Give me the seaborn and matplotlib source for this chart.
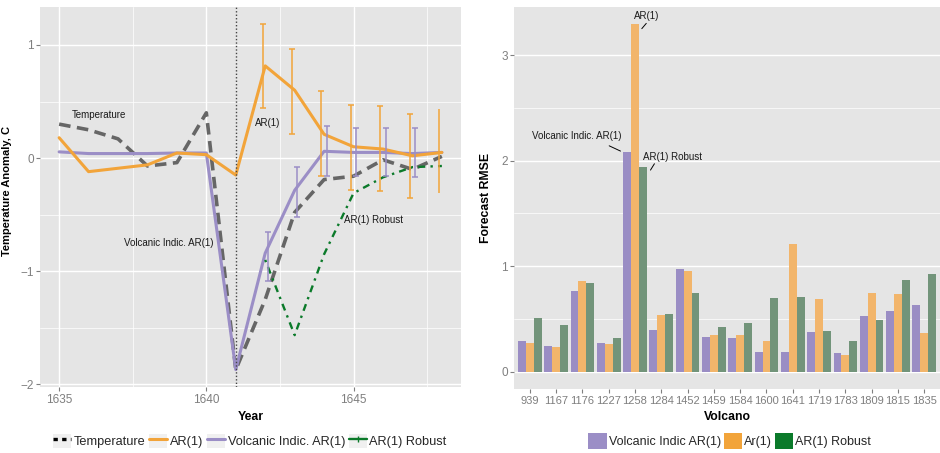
import matplotlib
matplotlib.use("Agg")
import numpy as np
import pandas as pd
import matplotlib.pyplot as plt
import seaborn as sns
from matplotlib.lines import Line2D
from matplotlib.patches import Rectangle, Patch
from matplotlib.legend_handler import HandlerTuple
from matplotlib.ticker import MultipleLocator

# ---------------- data ----------------
years = [1635, 1636, 1637, 1638, 1639, 1640, 1641, 1642, 1643, 1644, 1645, 1646, 1647, 1648]
temperature = [0.30, 0.25, 0.17, -0.07, -0.04, 0.40, -1.87, -1.25, -0.48, -0.19, -0.16, -0.015, -0.10, 0.015]
ar1 = [0.18, -0.12, -0.09, -0.06, 0.045, 0.03, -0.15, 0.815, 0.60, 0.21, 0.10, 0.08, 0.02, 0.05]
volc_ar1 = [0.055, 0.04, 0.04, 0.04, 0.045, 0.045, -1.87, -0.84, -0.285, 0.06, 0.05, 0.05, 0.04, 0.05]

robust_years = [1642, 1643, 1644, 1645, 1646, 1647, 1648]
robust = [-0.90, -1.565, -0.85, -0.31, -0.17, -0.08, -0.07]

ar1_err_years = [1642, 1643, 1644, 1645, 1646, 1647, 1648]
ar1_lo = [0.44, 0.215, -0.156, -0.28, -0.29, -0.356, -0.31]
ar1_hi = [1.185, 0.965, 0.594, 0.47, 0.456, 0.394, 0.43]

volc_err_years = [1642, 1643, 1644, 1645, 1646, 1647]
volc_lo = [-1.085, -0.52, -0.156, -0.16, -0.16, -0.17]
volc_hi = [-0.65, -0.08, 0.28, 0.27, 0.27, 0.27]

eruption_year = 1641

volcanoes = ["939", "1167", "1176", "1227", "1258", "1284", "1452", "1459",
             "1584", "1600", "1641", "1719", "1783", "1809", "1815", "1835"]
rmse_volc = [0.29, 0.246, 0.763, 0.27, 2.08, 0.394, 0.97, 0.328,
             0.319, 0.186, 0.186, 0.375, 0.177, 0.527, 0.574, 0.631]
rmse_ar1 = [0.27, 0.233, 0.858, 0.26, 3.29, 0.536, 0.953, 0.347,
            0.344, 0.287, 1.208, 0.688, 0.155, 0.745, 0.735, 0.366]
rmse_robust = [0.51, 0.44, 0.836, 0.32, 1.94, 0.543, 0.745, 0.423,
               0.46, 0.694, 0.707, 0.385, 0.29, 0.489, 0.864, 0.927]
models = ["Volcanic Indic AR(1)", "Ar(1)", "AR(1) Robust"]

# ---------------- style ----------------
sns.set_theme(style="darkgrid")
plt.rcParams["font.family"] = ["Liberation Sans", "DejaVu Sans"]

PANEL = "#E5E5E5"
TICK = "#7F7F7F"
ORANGE = "#F2A43A"
PURPLE = "#9B8EC6"
GREEN = "#0B7A2A"
GRAY = "#666666"

fig = plt.figure(figsize=(9.4, 4.53), dpi=100)
axL = fig.add_axes([40/940, (453-387.3)/453, 421/940, 380.6/453])
axR = fig.add_axes([514/940, (453-389.3)/453, 426/940, 382.6/453])

for ax in (axL, axR):
    ax.set_facecolor(PANEL)
    for s in ax.spines.values():
        s.set_visible(False)
    ax.grid(which="major", color="white", linewidth=1.0)
    ax.grid(which="minor", color="white", linewidth=0.5)
    ax.tick_params(axis="both", which="major", colors=TICK, labelcolor=TICK,
                   length=3, width=0.8, labelsize=8.5, pad=1.5,
                   bottom=True, left=True)
    ax.tick_params(which="minor", length=0)
    ax.set_axisbelow(True)

# ---------------- left panel ----------------
dfL = pd.DataFrame({"Year": years, "temp": temperature, "ar1": ar1, "volc": volc_ar1})
dfR = pd.DataFrame({"Year": robust_years, "robust": robust})

sns.lineplot(data=dfL, x="Year", y="temp", ax=axL, color=GRAY, linewidth=2.6,
             dashes=False, zorder=2).lines[-1].set_dashes((3.2, 1.8))
sns.lineplot(data=dfL, x="Year", y="volc", ax=axL, color=PURPLE, linewidth=2.2, zorder=3)
sns.lineplot(data=dfL, x="Year", y="ar1", ax=axL, color=ORANGE, linewidth=2.2, zorder=3)
sns.lineplot(data=dfR, x="Year", y="robust", ax=axL, color=GREEN, linewidth=1.7, zorder=4)
axL.lines[-1].set_dashes((1.0, 2.2, 3.0, 2.2))

axL.axvline(eruption_year, color="#444444", linestyle=(0, (1, 1.5)), linewidth=1.0, zorder=5)

dodge = 0.09
ar1_mid = [(a + b) / 2 for a, b in zip(ar1_lo, ar1_hi)]
ar1_half = [(b - a) / 2 for a, b in zip(ar1_lo, ar1_hi)]
axL.errorbar([y - dodge for y in ar1_err_years[:-1]], ar1_mid[:-1], yerr=ar1_half[:-1],
             fmt="none", ecolor=ORANGE, elinewidth=1.1, capsize=2.4, capthick=1.1, zorder=6)
axL.errorbar([ar1_err_years[-1] - dodge], ar1_mid[-1:], yerr=ar1_half[-1:],
             fmt="none", ecolor=ORANGE, elinewidth=1.1, capsize=0, zorder=6)
v_mid = [(a + b) / 2 for a, b in zip(volc_lo, volc_hi)]
v_half = [(b - a) / 2 for a, b in zip(volc_lo, volc_hi)]
axL.errorbar([y + dodge for y in volc_err_years], v_mid, yerr=v_half,
             fmt="none", ecolor=PURPLE, elinewidth=1.1, capsize=2.4, capthick=1.1, zorder=6)

axL.set_xlim(1634.35, 1648.65)
axL.set_ylim(-2.026, 1.338)
axL.set_xticks([1635, 1640, 1645])
axL.set_yticks([-2, -1, 0, 1])
axL.set_yticklabels(["\u22122", "\u22121", "0", "1"])
axL.xaxis.set_minor_locator(MultipleLocator(2.5))
axL.yaxis.set_minor_locator(MultipleLocator(0.5))
axL.set_xlabel("Year", fontsize=8.8, fontweight="bold", color="black")
axL.set_ylabel("Temperature Anomaly, C", fontsize=8, fontweight="bold", color="black")
axL.xaxis.set_label_coords(0.5, -0.062)
axL.yaxis.set_label_coords(-0.0665, 0.516)

ann = dict(fontsize=7, color="#1a1a1a", ha="left", va="center", zorder=7)
axL.text(1635.43, 0.38, "Temperature", **ann)
axL.text(1641.64, 0.31, "AR(1)", **ann)
axL.text(1637.19, -0.75, "Volcanic Indic. AR(1)", **ann)
axL.text(1644.67, -0.55, "AR(1) Robust", **ann)

# ---------------- right panel ----------------
dfB = pd.DataFrame({
    "Volcano": volcanoes * 3,
    "RMSE": rmse_volc + rmse_ar1 + rmse_robust,
    "Model": [models[0]] * len(volcanoes) + [models[1]] * len(volcanoes) + [models[2]] * len(volcanoes),
})
bar_pal = {models[0]: "#9A8DC4", models[1]: "#F2B56B", models[2]: "#72947A"}
sns.barplot(data=dfB, x="Volcano", y="RMSE", hue="Model", order=volcanoes,
            hue_order=models, palette=bar_pal, saturation=1, width=0.9,
            ax=axR, legend=False, linewidth=0, errorbar=None)
axR.set_xlim(-0.6, len(volcanoes) - 0.4)
axR.set_ylim(-0.167, 3.458)
axR.set_yticks([0, 1, 2, 3])
axR.yaxis.set_minor_locator(MultipleLocator(0.5))
axR.tick_params(axis="x", labelsize=8)
axR.set_xlabel("Volcano", fontsize=8.8, fontweight="bold", color="black")
axR.set_ylabel("Forecast RMSE", fontsize=8.8, fontweight="bold", color="black")
axR.xaxis.set_label_coords(0.5, -0.0567)
axR.yaxis.set_label_coords(-0.0516, 0.5)

annR = dict(fontsize=7, color="#1a1a1a", ha="center", va="center")
axR.text(4.43, 3.37, "AR(1)", **annR)
axR.plot([4.26, 4.43], [3.25, 3.30], color="black", lw=0.7)
axR.text(1.79, 2.23, "Volcanic Indic. AR(1)", **annR)
axR.plot([3.02, 3.45], [2.14, 2.09], color="black", lw=0.7)
axR.text(5.42, 2.03, "AR(1) Robust", **annR)
axR.plot([4.59, 4.74], [1.91, 1.97], color="black", lw=0.7)

# ---------------- legends ----------------
bg = lambda: Rectangle((0, 0), 1, 1, facecolor="#F0F0F0", edgecolor="none")
hL = [
    (bg(), Line2D([], [], color="black", lw=2.4, linestyle=(0, (1.3, 1.3)))),
    (bg(), Line2D([], [], color=ORANGE, lw=2.2)),
    (bg(), Line2D([], [], color=PURPLE, lw=2.2)),
    (bg(), Line2D([], [], color=GREEN, lw=1.7, marker="|", markersize=5, markevery=[1])),
]
labL = ["Temperature", "AR(1)", "Volcanic Indic. AR(1)", "AR(1) Robust"]
fig.legend(hL, labL, loc="center", bbox_to_anchor=(250/940, 12/453), ncol=4,
           frameon=False, fontsize=9.2, handlelength=1.4, handleheight=1.4,
           handletextpad=0.2, columnspacing=0.3, borderpad=0, borderaxespad=0,
           handler_map={tuple: HandlerTuple(ndivide=1)})

hR = [Patch(facecolor=c, edgecolor="none") for c in (PURPLE, ORANGE, GREEN)]
fig.legend(hR, models, loc="center", bbox_to_anchor=(729.7/940, 12/453), ncol=3,
           frameon=False, fontsize=9, handlelength=1.5, handleheight=1.5,
           handletextpad=0.15, columnspacing=0.2, borderpad=0, borderaxespad=0)

fig.savefig("out.png", dpi=100, facecolor="white")
